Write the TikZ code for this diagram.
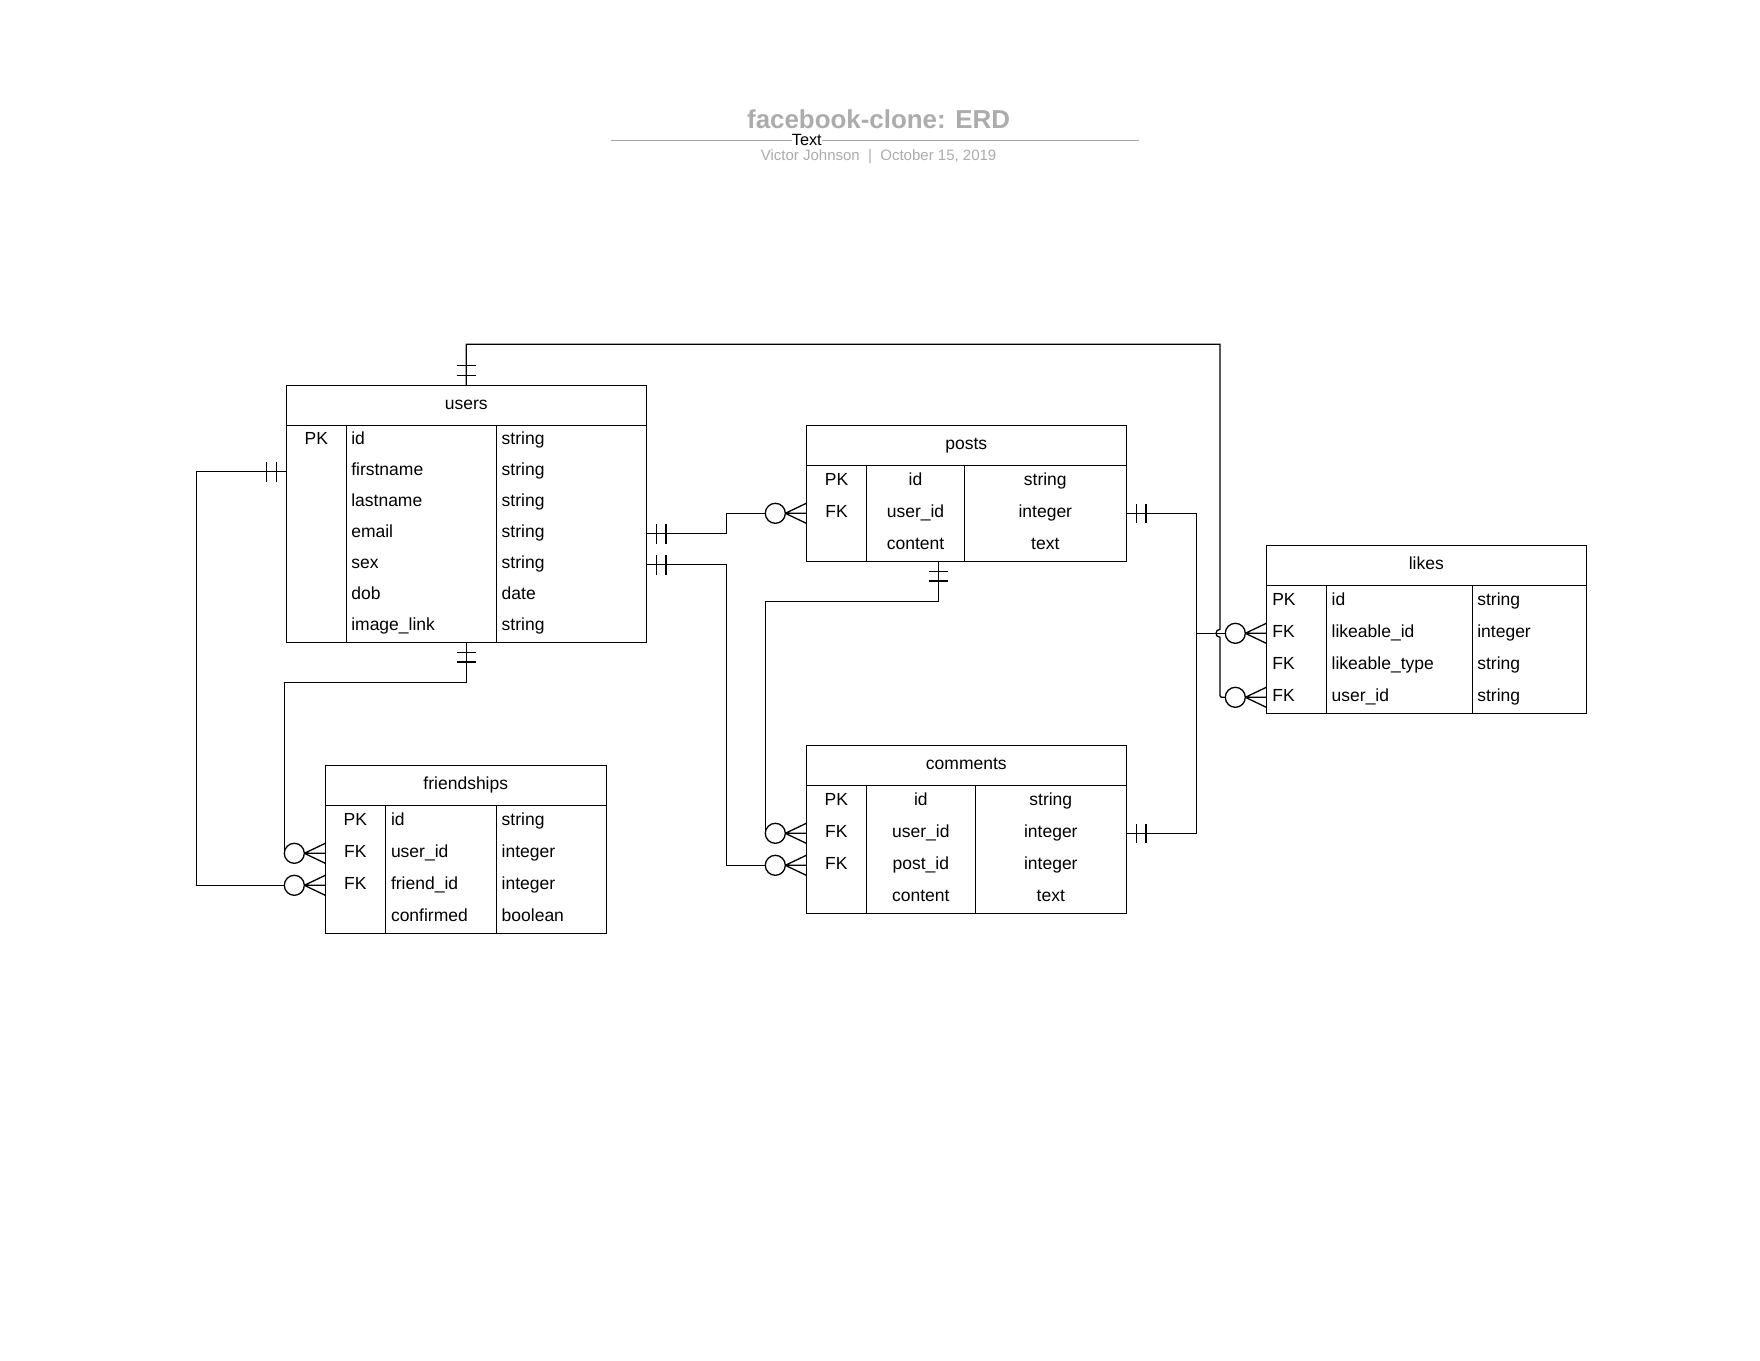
\documentclass[tikz,border=0pt]{standalone}
\usepackage{fontspec}
\setmainfont{Liberation Sans}
\usetikzlibrary{calc}
\definecolor{titlegray}{RGB}{172,172,172}
\definecolor{rulegray}{RGB}{165,165,165}
\tikzset{
  edge/.style={line width=1.3pt, draw=black},
  tbl/.style={draw=black, line width=1.3pt, fill=white, inner sep=0pt, outer sep=0pt, anchor=north west},
  rowbox/.style={inner sep=0pt, outer sep=0pt},
  txt/.style={inner sep=0pt, outer sep=0pt, font=\fontsize{17.5}{21}\selectfont},
  erone/.pic={
    \draw[edge] (10,-9.7) -- (10,9.7) (19.7,-9.7) -- (19.7,9.7);
    \coordinate (-tip) at (0,0);
  },
  ermany/.pic={
    \draw[edge] (31,0) circle[radius=10pt];
    \draw[edge] (21,0) -- (0,-10) (21,0) -- (0,0) (21,0) -- (0,10);
    \coordinate (-tip) at (41,0);
  }
}
\begin{document}
\begin{tikzpicture}[x=1pt,y=-1pt]
\useasboundingbox (0,0) rectangle (1760,1360);
\fill[white] (0,0) rectangle (1760,1360);

% ---------- title block ----------
\node[txt, anchor=base, text=titlegray, font=\bfseries\fontsize{25.9}{30}\selectfont] (title) at (878.6,128.3) {facebook-clone: ERD};
\coordinate (rule-l) at (611.4,140.7);
\coordinate (rule-r) at (1139.3,140.7);
\draw[draw=rulegray, line width=1.3pt] (rule-l) -- (rule-r);
\node[txt, anchor=base, fill=white, inner xsep=0.3pt, font=\fontsize{16.3}{19}\selectfont] (rule-label) at (806.8,145.3) {Text};
\node[txt, anchor=base, text=titlegray, font=\fontsize{15}{18}\selectfont] (subtitle) at (878.6,160.5) {Victor Johnson ~|~ October 15, 2019};

% ---------- users ----------
\node[tbl, minimum width=360pt, minimum height=257pt] (users) at (286.3,385.3) {};
\draw[edge] (286.3,425.3) -- (646.3,425.3) (346.3,425.3) -- (346.3,642.3) (496.3,425.3) -- (496.3,642.3);
\node[txt, anchor=base] (users-title) at (466.3,409.3) {users};
\foreach \n/\k/\f/\t [count=\i from 0] in {id/PK/id/string, firstname//firstname/string, lastname//lastname/string, email//email/string, sex//sex/string, dob//dob/date, imagelink//image\_link/string} {
  \node[rowbox, minimum width=360pt, minimum height=31pt] (users-\n) at (466.3,{440.8+31*\i}) {};
  \node[txt, anchor=base] (users-\n-key) at (316.3,{444.8+31*\i}) {\k};
  \node[txt, anchor=base west] (users-\n-name) at (351.3,{444.8+31*\i}) {\f};
  \node[txt, anchor=base west] (users-\n-type) at (501.7,{444.8+31*\i}) {\t};
}

% ---------- posts ----------
\node[tbl, minimum width=320pt, minimum height=136pt] (posts) at (806.3,425.3) {};
\draw[edge] (806.3,465.3) -- (1126.3,465.3) (866.7,465.3) -- (866.7,561.3) (964.3,465.3) -- (964.3,561.3);
\node[txt, anchor=base] (posts-title) at (966.3,449.3) {posts};
\foreach \n/\k/\f/\t [count=\i from 0] in {id/PK/id/string, userid/FK/user\_id/integer, content//content/text} {
  \node[rowbox, minimum width=320pt, minimum height=32pt] (posts-\n) at (966.3,{481.3+32*\i}) {};
  \node[txt, anchor=base] (posts-\n-key) at (836.5,{485.3+32*\i}) {\k};
  \node[txt, anchor=base] (posts-\n-name) at (915.5,{485.3+32*\i}) {\f};
  \node[txt, anchor=base] (posts-\n-type) at (1045.3,{485.3+32*\i}) {\t};
}

% ---------- likes ----------
\node[tbl, minimum width=320pt, minimum height=168pt] (likes) at (1266.3,545.3) {};
\draw[edge] (1266.3,585.3) -- (1586.3,585.3) (1326.3,585.3) -- (1326.3,713.3) (1472.3,585.3) -- (1472.3,713.3);
\node[txt, anchor=base] (likes-title) at (1426.3,569.3) {likes};
\foreach \n/\k/\f/\t [count=\i from 0] in {id/PK/id/string, likeableid/FK/likeable\_id/integer, likeabletype/FK/likeable\_type/string, userid/FK/user\_id/string} {
  \node[rowbox, minimum width=320pt, minimum height=32pt] (likes-\n) at (1426.3,{601.3+32*\i}) {};
  \node[txt, anchor=base west] (likes-\n-key) at (1272.3,{605.3+32*\i}) {\k};
  \node[txt, anchor=base west] (likes-\n-name) at (1331.7,{605.3+32*\i}) {\f};
  \node[txt, anchor=base west] (likes-\n-type) at (1477.3,{605.3+32*\i}) {\t};
}

% ---------- comments ----------
\node[tbl, minimum width=320pt, minimum height=168pt] (comments) at (806.3,745.3) {};
\draw[edge] (806.3,785.3) -- (1126.3,785.3) (866.3,785.3) -- (866.3,913.3) (975.3,785.3) -- (975.3,913.3);
\node[txt, anchor=base] (comments-title) at (966.3,769.3) {comments};
\foreach \n/\k/\f/\t [count=\i from 0] in {id/PK/id/string, userid/FK/user\_id/integer, postid/FK/post\_id/integer, content//content/text} {
  \node[rowbox, minimum width=320pt, minimum height=32pt] (comments-\n) at (966.3,{801.3+32*\i}) {};
  \node[txt, anchor=base] (comments-\n-key) at (836.3,{805.3+32*\i}) {\k};
  \node[txt, anchor=base] (comments-\n-name) at (920.8,{805.3+32*\i}) {\f};
  \node[txt, anchor=base] (comments-\n-type) at (1050.8,{805.3+32*\i}) {\t};
}

% ---------- friendships ----------
\node[tbl, minimum width=281pt, minimum height=168pt] (friendships) at (325.3,765.3) {};
\draw[edge] (325.3,805.3) -- (606.3,805.3) (385.3,805.3) -- (385.3,933.3) (496.3,805.3) -- (496.3,933.3);
\node[txt, anchor=base] (friendships-title) at (465.8,789.3) {friendships};
\foreach \n/\k/\f/\t [count=\i from 0] in {id/PK/id/string, userid/FK/user\_id/integer, friendid/FK/friend\_id/integer, confirmed//confirmed/boolean} {
  \node[rowbox, minimum width=281pt, minimum height=32pt] (friendships-\n) at (465.8,{821.3+32*\i}) {};
  \node[txt, anchor=base] (friendships-\n-key) at (355.3,{825.3+32*\i}) {\k};
  \node[txt, anchor=base west] (friendships-\n-name) at (391,{825.3+32*\i}) {\f};
  \node[txt, anchor=base west] (friendships-\n-type) at (501.7,{825.3+32*\i}) {\t};
}

% ---------- connectors ----------
% users (top) -> likes.user_id
\pic[rotate=90] (ua) at (users.north) {erone};
\pic[rotate=180] (lu) at (likes-userid.west) {ermany};
\draw[edge] (users.north) -- (466.3,344.3) -- (1220,344.3) -- (1220,629.3)
  .. controls (1214.7,629.3) and (1214.7,637.3) .. (1220,637.3)
  -- (1220,693.3) .. controls (1220,697.3) .. (1224,697.3) -- (lu-tip);

% posts.user_id (right) & comments.user_id (right) -> likes.likeable_id
\coordinate (likes-junction) at (1196.7,633.3);
\pic (pr) at (posts-userid.east) {erone};
\pic (cr) at (comments-userid.east) {erone};
\pic[rotate=180] (ll) at (likes-likeableid.west) {ermany};
\draw[edge] (posts-userid.east) -- (1196.7,513.3) -- (1196.7,833.3) -- (comments-userid.east);
\draw[edge] (likes-junction) -- (ll-tip);

% users.email -> posts.user_id
\pic (ue) at (users-email.east) {erone};
\pic[rotate=180] (pu) at (posts-userid.west) {ermany};
\draw[edge] (users-email.east) -- (726.7,533.8) -- (726.7,513.3) -- (pu-tip);

% users.sex -> comments.post_id
\pic (us) at (users-sex.east) {erone};
\pic[rotate=180] (cp) at (comments-postid.west) {ermany};
\draw[edge] (users-sex.east) -- (726.7,564.8) -- (726.7,865.3) -- (cp-tip);

% posts (bottom) -> comments.user_id
\coordinate (posts-out) at (938.3,561.3);
\pic[rotate=-90] (pb) at (posts-out) {erone};
\pic[rotate=180] (cu) at (comments-userid.west) {ermany};
\draw[edge] (posts-out) -- (938.3,601.7) -- (765.3,601.7) -- (cu-tip);

% users.firstname (left) -> friendships.friend_id
\pic[rotate=180] (uf) at (users-firstname.west) {erone};
\pic[rotate=180] (ff) at (friendships-friendid.west) {ermany};
\draw[edge] (users-firstname.west) -- (196.7,471.8) -- (196.7,885.3) -- (ff-tip);

% users (bottom) -> friendships.user_id
\pic[rotate=-90] (ub) at (users.south) {erone};
\pic[rotate=180] (fu) at (friendships-userid.west) {ermany};
\draw[edge] (users.south) -- (466.3,682.3) -- (284.3,682.3) -- (fu-tip);
\end{tikzpicture}
\end{document}
